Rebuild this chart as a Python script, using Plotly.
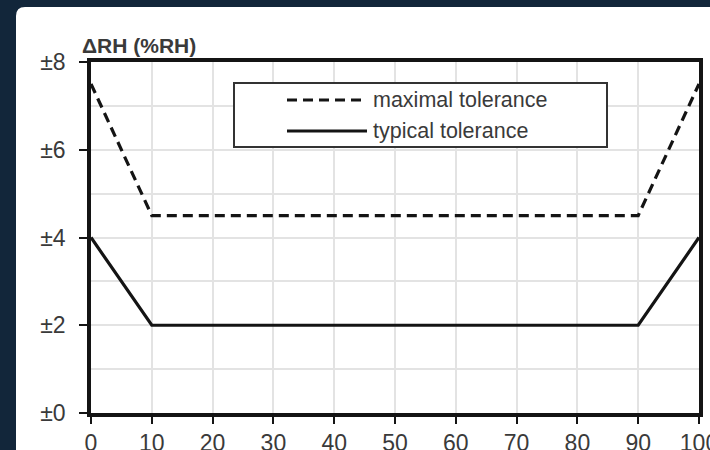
import plotly.graph_objects as go

rh = [0, 10, 90, 100]
maximal_tol = [7.5, 4.5, 4.5, 7.5]
typical_tol = [4, 2, 2, 4]
x_ticks = [0, 10, 20, 30, 40, 50, 60, 70, 80, 90, 100]
y_ticks = [0, 2, 4, 6, 8]
y_labels = ["±0", "±2", "±4", "±6", "±8"]
series_names = ["maximal tolerance", "typical tolerance"]

W, H = 710, 450
L, R, T, B = 91, 699, 62, 413


def px(x):
    return (x - L) / (R - L)


def py(y):
    return (B - y) / (B - T)


ink = "#141414"
txt = "#3a3a3a"
font = "Liberation Sans, Arial, sans-serif"

fig = go.Figure()
fig.add_trace(go.Scatter(x=rh, y=maximal_tol, mode="lines", name=series_names[0],
                         line=dict(color=ink, width=3.2, dash="10px,6px"), showlegend=False))
fig.add_trace(go.Scatter(x=rh, y=typical_tol, mode="lines", name=series_names[1],
                         line=dict(color=ink, width=3.2), showlegend=False))

shapes = []
# white rounded panel
r = 9
path = (f"M {px(16)},{py(7 + r)} Q {px(16)},{py(7)} {px(16 + r)},{py(7)} "
        f"L {px(730)},{py(7)} L {px(730)},{py(470)} L {px(16)},{py(470)} Z")
shapes.append(dict(type="path", xref="paper", yref="paper", path=path,
                   fillcolor="white", line=dict(width=0), layer="below"))
# legend box
shapes.append(dict(type="rect", xref="paper", yref="paper",
                   x0=px(234), x1=px(607), y0=py(147), y1=py(83),
                   fillcolor="white", line=dict(color="#333333", width=2)))
shapes.append(dict(type="line", xref="paper", yref="paper",
                   x0=px(287), x1=px(367), y0=py(100), y1=py(100),
                   line=dict(color=ink, width=3.2, dash="10px,6px")))
shapes.append(dict(type="line", xref="paper", yref="paper",
                   x0=px(287), x1=px(367), y0=py(131), y1=py(131),
                   line=dict(color=ink, width=3.2)))

annotations = [
    dict(xref="paper", yref="paper", x=px(371), y=py(100), text=series_names[0],
         showarrow=False, xanchor="left", yanchor="middle",
         font=dict(family=font, size=21.5, color=txt)),
    dict(xref="paper", yref="paper", x=px(371), y=py(131), text=series_names[1],
         showarrow=False, xanchor="left", yanchor="middle",
         font=dict(family=font, size=21.5, color=txt)),
    dict(xref="paper", yref="paper", x=px(80), y=py(45), text="<b>ΔRH (%RH)</b>",
         showarrow=False, xanchor="left", yanchor="middle",
         font=dict(family=font, size=21, color=txt)),
]

fig.update_layout(
    width=W, height=H,
    margin=dict(l=L, r=W - R, t=T, b=H - B, autoexpand=False),
    paper_bgcolor="#12263a",
    plot_bgcolor="white",
    shapes=shapes,
    annotations=annotations,
    font=dict(family=font, color=txt),
)
fig.update_xaxes(
    range=[0, 100], tickvals=x_ticks, ticks="outside", ticklen=7, tickwidth=2,
    tickcolor=ink, showgrid=True, gridcolor="#e3e3e3", gridwidth=1.5,
    showline=True, linecolor=ink, linewidth=3.5, mirror=True, zeroline=False,
    tickfont=dict(family=font, size=23, color=txt), ticklabelstandoff=0,
    ticklabeloverflow="allow", automargin=False,
)
fig.update_yaxes(
    range=[0, 8], tickvals=y_ticks, ticktext=y_labels, ticks="outside", ticklen=8,
    tickwidth=2, tickcolor=ink, showgrid=True, gridcolor="#e3e3e3", gridwidth=1.5,
    minor=dict(dtick=1, showgrid=True, gridcolor="#e3e3e3", gridwidth=1.5),
    showline=True, linecolor=ink, linewidth=3.5, mirror=True, zeroline=False,
    tickfont=dict(family=font, size=23, color=txt), ticklabelstandoff=9,
    ticklabeloverflow="allow", automargin=False,
)

fig.write_html("out.html", config={"displayModeBar": False},
               post_script="document.body.style.margin='0';")
